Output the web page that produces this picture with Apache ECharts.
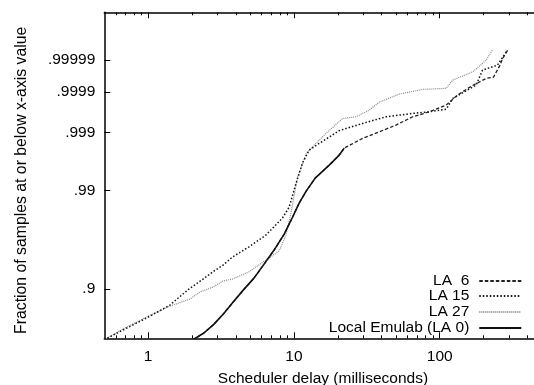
<!DOCTYPE html>
<html>
<head>
<meta charset="utf-8">
<script src="https://cdn.jsdelivr.net/npm/echarts@6/dist/echarts.min.js"></script>
<style>html,body{margin:0;padding:0;background:#fff;}#c{width:534px;height:385px;}</style>
</head>
<body>
<div id="c"></div>
<script>
// ---- data (x: scheduler delay in ms, p: fraction of samples at or below x) ----
const localX = [2.03, 2.41, 2.83, 3.31, 3.88, 4.55, 5.32, 6.24, 7.31, 8.57, 9.72, 10.86, 12.13, 13.99, 17.46, 20.45, 22.13];
const localP = [0.80, 0.815, 0.834, 0.856, 0.879, 0.8995, 0.9165, 0.9354, 0.9514, 0.9661, 0.9774, 0.98514, 0.98974, 0.99338, 0.99591, 0.997265, 0.997968];

const la6X = [2.03, 2.41, 2.83, 3.31, 3.88, 4.55, 5.32, 6.24, 7.31, 8.57, 9.72, 10.86, 12.13, 13.99, 17.46, 20.45, 22.13, 29.57, 38.51, 50.15, 65.24, 84.96, 110.7, 132.3, 165.2, 208.4, 233.9, 257.2, 271.0, 293.4];
const la6P = [0.80, 0.815, 0.834, 0.856, 0.879, 0.8995, 0.9165, 0.9354, 0.9514, 0.9661, 0.9774, 0.98514, 0.98974, 0.99338, 0.99591, 0.997265, 0.997968, 0.998691, 0.999043, 0.999316, 0.999559, 0.999665, 0.999772, 0.9998764, 0.9999316, 0.9999598, 0.9999634, 0.9999839, 0.9999915, 0.9999957];

const la15X = [0.5, 0.67, 1.0, 1.41, 1.90, 2.38, 2.78, 3.26, 3.78, 4.92, 6.41, 8.34, 9.27, 10.30, 11.44, 12.72, 14.90, 20.45, 29.57, 42.81, 65.24, 84.96, 110.7, 122.9, 177.9, 196.6, 249.2, 286.1];
const la15P = [0.80, 0.8214, 0.8483, 0.8718, 0.8995, 0.9151, 0.9254, 0.9341, 0.9438, 0.9547, 0.9652, 0.9774, 0.9833, 0.99185, 0.996224, 0.997782, 0.998348, 0.999096, 0.999373, 0.999559, 0.999634, 0.999665, 0.999712, 0.999848, 0.9999362, 0.9999782, 0.9999851, 0.99999499];

const la27X = [0.5, 0.67, 1.0, 1.41, 1.93, 2.26, 2.78, 3.26, 3.78, 4.92, 6.41, 7.91, 8.80, 9.57, 10.57, 11.44, 12.13, 13.40, 16.57, 21.54, 26.63, 32.87, 38.51, 52.84, 76.4, 110.7, 122.9, 168.6, 208.4, 231.4];
const la27P = [0.80, 0.8234, 0.8504, 0.8697, 0.8825, 0.8946, 0.9027, 0.9121, 0.9151, 0.9254, 0.9403, 0.9503, 0.9652, 0.98077, 0.9936, 0.996064, 0.997447, 0.998077, 0.998965, 0.999514, 0.999559, 0.999696, 0.99981, 0.9998841, 0.9999147, 0.9999204, 0.9999547, 0.9999752, 0.99999, 0.99999594];

const yTickFractions = [0.9, 0.99, 0.999, 0.9999, 0.99999];
const yTickLabels = ['.9', '.99', '.999', '.9999', '.99999'];
const xMajorTicks = [1, 10, 100];
const xMinorTicks = [0.6, 0.7, 0.8, 0.9, 2, 3, 4, 5, 6, 7, 8, 9, 20, 30, 40, 50, 60, 70, 80, 90, 200, 300, 400];

// ---- transform: log of the number of nines ----
const nines = p => Math.log10(-Math.log10(1 - p));
const pairs = (xs, ps) => xs.map((x, i) => [x, nines(ps[i])]);
const yTickVals = yTickFractions.map(nines);

const FONT = 'Liberation Sans, Arial, Helvetica, sans-serif';
const FS = 15.5;

const chart = echarts.init(document.getElementById('c'), null, {renderer: 'canvas'});

const commonX = {
  type: 'log', min: 0.5, max: 500, gridIndex: 0,
  splitLine: {show: false}, minorTick: {show: false}
};

const legendBase = {
  orient: 'vertical', right: 11.7, itemWidth: 42, itemHeight: 10, align: 'right',
  textStyle: {fontFamily: FONT, fontSize: FS, color: '#000', padding: [0, 5, 0, 0]},
  itemStyle: {opacity: 0},
  padding: 0
};

chart.setOption({
  animation: false,
  backgroundColor: '#fff',
  grid: {left: 104.3, top: 12.3, width: 437.3, height: 326, outerBoundsMode: 'none', containLabel: false},
  xAxis: [
    Object.assign({}, commonX, {
      position: 'bottom',
      name: 'Scheduler delay (milliseconds)', nameLocation: 'middle', nameGap: 32,
      nameTextStyle: {fontFamily: FONT, fontSize: FS, color: '#000'},
      axisLine: {show: true, onZero: false, lineStyle: {color: '#000', width: 1.5}},
      axisTick: {show: true, inside: true, length: 6, customValues: xMajorTicks, lineStyle: {color: '#000', width: 1}},
      axisLabel: {show: true, customValues: xMajorTicks, margin: 10, fontFamily: FONT, fontSize: FS, color: '#000'}
    }),
    Object.assign({}, commonX, {
      position: 'bottom',
      axisLine: {show: false, onZero: false},
      axisTick: {show: true, inside: true, length: 3, customValues: xMinorTicks, lineStyle: {color: '#000', width: 1}},
      axisLabel: {show: false}
    }),
    Object.assign({}, commonX, {
      position: 'top',
      axisLine: {show: true, onZero: false, lineStyle: {color: '#000', width: 1.5}},
      axisTick: {show: true, inside: true, length: 6, customValues: xMajorTicks, lineStyle: {color: '#000', width: 1}},
      axisLabel: {show: false}
    }),
    Object.assign({}, commonX, {
      position: 'top',
      axisLine: {show: false, onZero: false},
      axisTick: {show: true, inside: true, length: 3, customValues: xMinorTicks, lineStyle: {color: '#000', width: 1}},
      axisLabel: {show: false}
    })
  ],
  yAxis: {
    type: 'value', min: -0.1512, max: 0.8451,
    name: 'Fraction of samples at or below x-axis value', nameLocation: 'middle', nameGap: 75,
    nameTextStyle: {fontFamily: FONT, fontSize: 15.8, color: '#000', padding: [0, 10, 0, 0]},
    splitLine: {show: false},
    axisLine: {show: true, onZero: false, lineStyle: {color: '#000', width: 1.5}},
    axisTick: {show: true, inside: true, length: 6, customValues: yTickVals, lineStyle: {color: '#000', width: 1}},
    axisLabel: {
      show: true, customValues: yTickVals, margin: 9, fontFamily: FONT, fontSize: FS, color: '#000',
      formatter: v => {
        let best = 0;
        yTickVals.forEach((t, i) => { if (Math.abs(t - v) < Math.abs(yTickVals[best] - v)) best = i; });
        return yTickLabels[best];
      }
    }
  },
  legend: [
    Object.assign({}, legendBase, {data: ['LA  6'], top: 273}),
    Object.assign({}, legendBase, {data: ['LA 15'], top: 288}),
    Object.assign({}, legendBase, {data: ['LA 27'], top: 304}),
    Object.assign({}, legendBase, {data: ['Local Emulab (LA 0)'], top: 320})
  ],
  series: [
    {name: 'LA 27', type: 'line', data: pairs(la27X, la27P), symbol: 'none', showSymbol: false,
     lineStyle: {color: '#8a8a8a', width: 1.2, type: [1, 1]}, itemStyle: {color: '#8a8a8a'}},
    {name: 'LA 15', type: 'line', data: pairs(la15X, la15P), symbol: 'none', showSymbol: false,
     lineStyle: {color: '#111', width: 1.5, type: [1.5, 2]}, itemStyle: {color: '#111'}},
    {name: 'LA  6', type: 'line', data: pairs(la6X, la6P), symbol: 'none', showSymbol: false,
     lineStyle: {color: '#222', width: 1.3, type: [3.5, 2]}, itemStyle: {color: '#222'}},
    {name: 'Local Emulab (LA 0)', type: 'line', data: pairs(localX, localP), symbol: 'none', showSymbol: false,
     lineStyle: {color: '#111', width: 1.6, type: 'solid'}, itemStyle: {color: '#111'}}
  ]
});
</script>
</body>
</html>
